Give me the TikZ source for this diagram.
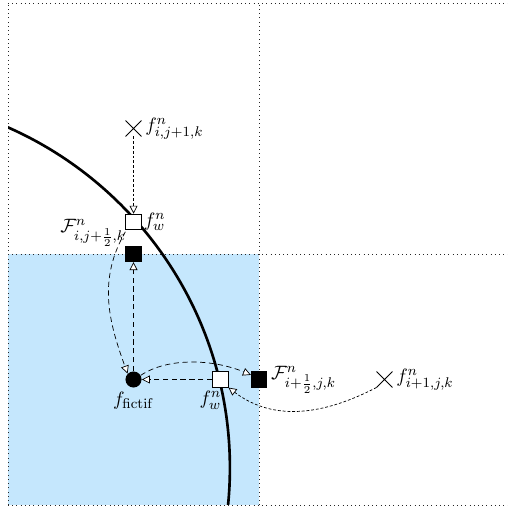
\documentclass[tikz,border=0pt]{standalone}
\usetikzlibrary{arrows.meta,shapes.misc,positioning}
\definecolor{cellblue}{RGB}{197,231,253}
\begin{document}
\begin{tikzpicture}[
  sq/.style={rectangle,minimum size=0.31cm,inner sep=0pt,draw=black,line width=0.4pt},
  wsq/.style={sq,fill=white},
  bsq/.style={sq,fill=black},
  dot/.style={circle,fill=black,minimum size=0.32cm,inner sep=0pt},
  xmark/.style={cross out,draw=black,minimum size=0.3cm,inner sep=0pt,line width=0.5pt},
  lbl/.style={inner sep=1pt,font=\fontsize{10.95}{13}\selectfont},
  tip/.style={-{Triangle[fill=white,length=4.5pt,width=4.5pt]}},
  arr/.style={tip,densely dashed,line width=0.4pt},
  farr/.style={tip,dash pattern=on 1.6pt off 1.1pt,line width=0.4pt},
  grid/.style={dotted,line width=0.4pt,black!85}
]
\useasboundingbox (-5.16,-5.02) rectangle (4.96,5.06);
\fill[cellblue] (-5,-5) rectangle (0,0);
\draw[grid] (-5,5) -- (5,5);
\draw[grid] (-5,0) -- (5,0);
\draw[grid] (-5,-5) -- (5,-5);
\draw[grid] (-5,-5) -- (-5,5);
\draw[grid] (0,-5) -- (0,5);
\begin{scope}
\clip (-5,-5) rectangle (5,5);
\draw[line width=1.5pt] (-7.99,-4.26) circle (7.41);
\end{scope}
\node[xmark] (xt) at (-2.5,2.5) {};
\node[wsq] (ws1) at (-2.5,0.64) {};
\node[bsq] (fb) at (-2.5,0) {};
\node[dot] (c) at (-2.5,-2.5) {};
\node[wsq] (ws2) at (-0.77,-2.5) {};
\node[bsq] (fr) at (0,-2.5) {};
\node[xmark] (xr) at (2.5,-2.5) {};
\node[lbl,right=1pt of xt] (lxt) {$f^n_{i,j+1,k}$};
\node[lbl,right=0pt of ws1] (lws1) {$f^n_w$};
\node[lbl,above left=-1.5pt and -1.5pt of fb] (lfb) {$\mathcal{F}^n_{i,j+\frac{1}{2},k}$};
\node[lbl,below=1pt of c] (lc) {$f_{\mathrm{fictif}}$};
\node[lbl,below=1pt of ws2,xshift=-0.2cm] (lws2) {$f^n_w$};
\node[lbl,right=1pt of fr] (lfr) {$\mathcal{F}^n_{i+\frac{1}{2},j,k}$};
\node[lbl,right=1pt of xr] (lxr) {$f^n_{i+1,j,k}$};
\draw[farr] (xt.south) -- (ws1.north);
\draw[arr] (c.north) -- (fb.south);
\draw[arr] (ws2.west) -- (c.east);
\draw[arr] ([yshift=-1pt]ws1.south west) to[out=240,in=110] (c.north west);
\draw[arr] (c.30) .. controls (-1.8,-2.05) and (-0.9,-2.1) .. ([yshift=-2pt]fr.north west);
\draw[farr] (xr.south west) .. controls (1.3,-3.2) and (0.3,-3.35) .. (ws2.south east);
\end{tikzpicture}
\end{document}
